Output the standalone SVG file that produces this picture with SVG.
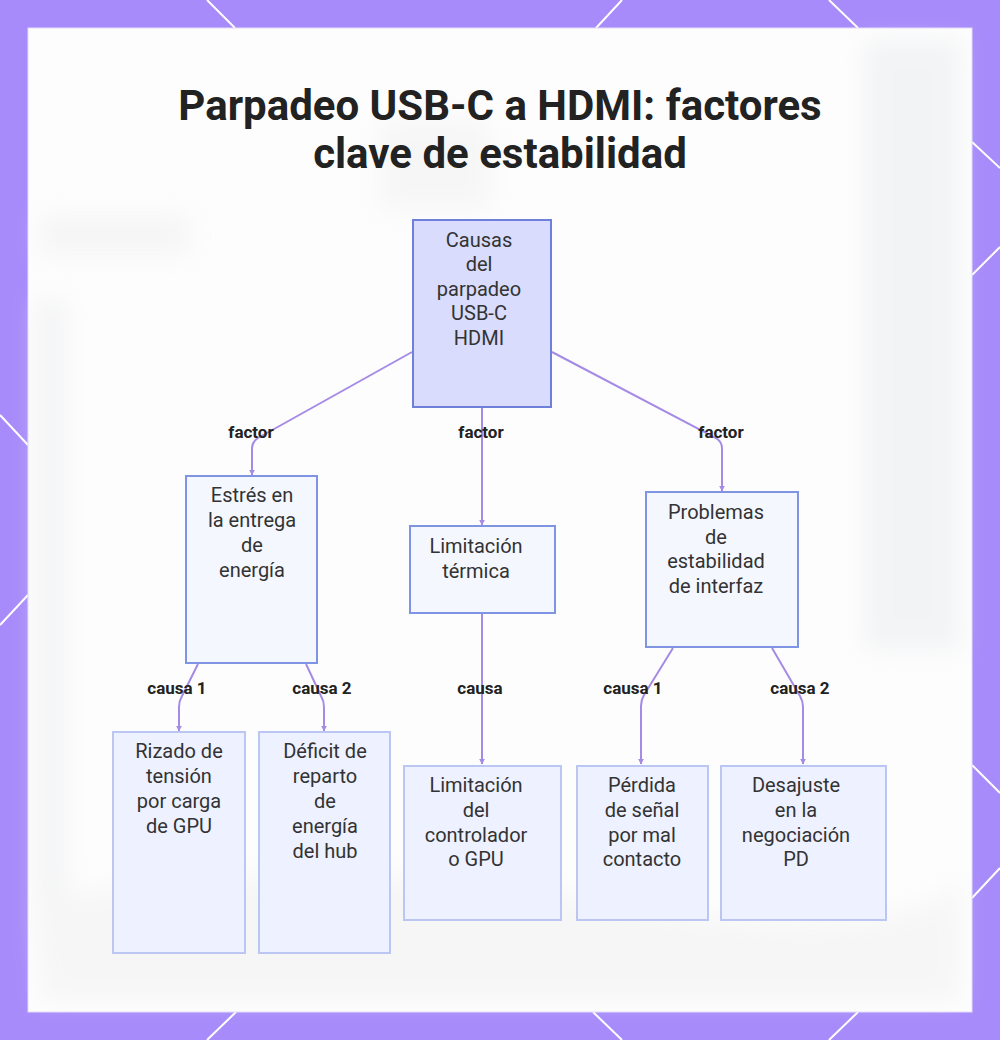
<svg xmlns="http://www.w3.org/2000/svg" width="1000" height="1040" viewBox="0 0 1000 1040">
  <defs>
    <style>
      .title { font-family: Roboto, "Liberation Sans", sans-serif; font-weight: 700; font-size: 42px; fill: #222222; text-anchor: middle; }
      .nt { font-family: Roboto, "Liberation Sans", sans-serif; font-size: 20px; fill: #333333; text-anchor: middle; }
      .el { font-family: Roboto, "Liberation Sans", sans-serif; font-weight: 700; font-size: 17px; fill: #222222; text-anchor: middle; }
      .root { fill: #d9dcfc; stroke: #6f80da; stroke-width: 2; }
      .l1 { fill: #f5f7ff; stroke: #8094e4; stroke-width: 2; }
      .l2 { fill: #eef1ff; stroke: #bcc6f2; stroke-width: 2; }
      .edge { fill: none; stroke: #a58be6; stroke-width: 2; }
      .deco { stroke: #ffffff; stroke-width: 2; }
    </style>
    <marker id="arrow" viewBox="0 0 10 10" refX="9" refY="5" markerWidth="3" markerHeight="3" orient="auto">
      <path d="M0,0 L10,5 L0,10 z" fill="#a58be6"/>
    </marker>
    <filter id="blur" x="-20%" y="-20%" width="140%" height="140%">
      <feGaussianBlur stdDeviation="12"/>
    </filter>
  </defs>

  <!-- frame -->
  <rect x="0" y="0" width="1000" height="1040" fill="#a78bfa"/>
  <g class="deco">
    <line x1="207" y1="0" x2="235" y2="28"/>
    <line x1="622" y1="0" x2="596" y2="28"/>
    <line x1="829" y1="0" x2="858" y2="28"/>
    <line x1="236" y1="1012" x2="207" y2="1040"/>
    <line x1="593" y1="1012" x2="622" y2="1040"/>
    <line x1="858" y1="1012" x2="829" y2="1040"/>
    <line x1="0" y1="415" x2="28" y2="445"/>
    <line x1="28" y1="595" x2="0" y2="625"/>
    <line x1="972" y1="142" x2="1000" y2="168"/>
    <line x1="1000" y1="247" x2="972" y2="275"/>
    <line x1="972" y1="765" x2="1000" y2="793"/>
    <line x1="1000" y1="868" x2="972" y2="898"/>
  </g>
  <rect x="28" y="28" width="944" height="984" fill="#fdfdfd" stroke="#e4dcfb" stroke-width="1"/>

  <!-- faint blurred background -->
  <g filter="url(#blur)" opacity="0.45">
    <rect x="865" y="40" width="95" height="610" fill="#e6e8ec"/>
    <rect x="36" y="300" width="30" height="650" fill="#e8e9ec"/>
    <rect x="40" y="215" width="150" height="40" fill="#ececee"/>
    <rect x="380" y="120" width="110" height="90" fill="#eeeeef"/>
    <path d="M40,900 Q300,850 600,900 T960,880 L960,1000 L40,1000 Z" fill="#eeeef0"/>
  </g>

  <!-- title -->
  <text class="title" x="500" y="120">Parpadeo USB-C a HDMI: factores</text>
  <text class="title" x="500" y="168">clave de estabilidad</text>

  <!-- connectors -->
  <g id="connectors">
    <path class="edge" d="M412,352 L258,438 Q252,442 252,448 L252,475" marker-end="url(#arrow)"/>
    <path class="edge" d="M482,407 L482,525" marker-end="url(#arrow)"/>
    <path class="edge" d="M552,352 L716,438 Q722,442 722,448 L722,491" marker-end="url(#arrow)"/>
    <path class="edge" d="M198,664 L182,696 Q179,701 179,707 L179,731" marker-end="url(#arrow)"/>
    <path class="edge" d="M306,664 L321,696 Q324,701 324,707 L324,731" marker-end="url(#arrow)"/>
    <path class="edge" d="M482,613 L482,764" marker-end="url(#arrow)"/>
    <path class="edge" d="M673,648 L644,695 Q641,700 641,706 L641,764" marker-end="url(#arrow)"/>
    <path class="edge" d="M772,648 L800,696 Q803,701 803,707 L803,764" marker-end="url(#arrow)"/>
    <text class="el" x="251" y="438">factor</text>
    <text class="el" x="481" y="438">factor</text>
    <text class="el" x="721" y="438">factor</text>
    <text class="el" x="177" y="694">causa 1</text>
    <text class="el" x="322" y="694">causa 2</text>
    <text class="el" x="480" y="694">causa</text>
    <text class="el" x="633" y="694">causa 1</text>
    <text class="el" x="800" y="694">causa 2</text>
  </g>

  <!-- nodes -->
  <g id="root">
    <rect class="root" x="413" y="220" width="138" height="187"/>
    <text class="nt" x="479" y="247">Causas</text>
    <text class="nt" x="479" y="271">del</text>
    <text class="nt" x="479" y="296">parpadeo</text>
    <text class="nt" x="479" y="320">USB-C</text>
    <text class="nt" x="479" y="345">HDMI</text>
  </g>
  <g id="estres">
    <rect class="l1" x="186" y="476" width="131" height="187"/>
    <text class="nt" x="252" y="502">Estrés en</text>
    <text class="nt" x="252" y="527">la entrega</text>
    <text class="nt" x="252" y="552">de</text>
    <text class="nt" x="252" y="577">energía</text>
  </g>
  <g id="termica">
    <rect class="l1" x="410" y="526" width="145" height="87"/>
    <text class="nt" x="476" y="553">Limitación</text>
    <text class="nt" x="476" y="578">térmica</text>
  </g>
  <g id="interfaz">
    <rect class="l1" x="646" y="492" width="152" height="155"/>
    <text class="nt" x="716" y="519">Problemas</text>
    <text class="nt" x="716" y="544">de</text>
    <text class="nt" x="716" y="568">estabilidad</text>
    <text class="nt" x="716" y="593">de interfaz</text>
  </g>
  <g id="rizado">
    <rect class="l2" x="113" y="732" width="132" height="221"/>
    <text class="nt" x="179" y="758">Rizado de</text>
    <text class="nt" x="179" y="783">tensión</text>
    <text class="nt" x="179" y="808">por carga</text>
    <text class="nt" x="179" y="833">de GPU</text>
  </g>
  <g id="deficit">
    <rect class="l2" x="259" y="732" width="131" height="221"/>
    <text class="nt" x="325" y="758">Déficit de</text>
    <text class="nt" x="325" y="783">reparto</text>
    <text class="nt" x="325" y="808">de</text>
    <text class="nt" x="325" y="833">energía</text>
    <text class="nt" x="325" y="858">del hub</text>
  </g>
  <g id="controlador">
    <rect class="l2" x="404" y="766" width="157" height="154"/>
    <text class="nt" x="476" y="792">Limitación</text>
    <text class="nt" x="476" y="817">del</text>
    <text class="nt" x="476" y="842">controlador</text>
    <text class="nt" x="476" y="866">o GPU</text>
  </g>
  <g id="perdida">
    <rect class="l2" x="577" y="766" width="131" height="154"/>
    <text class="nt" x="642" y="792">Pérdida</text>
    <text class="nt" x="642" y="817">de señal</text>
    <text class="nt" x="642" y="842">por mal</text>
    <text class="nt" x="642" y="866">contacto</text>
  </g>
  <g id="desajuste">
    <rect class="l2" x="721" y="766" width="165" height="154"/>
    <text class="nt" x="796" y="792">Desajuste</text>
    <text class="nt" x="796" y="817">en la</text>
    <text class="nt" x="796" y="842">negociación</text>
    <text class="nt" x="796" y="866">PD</text>
  </g>
</svg>
